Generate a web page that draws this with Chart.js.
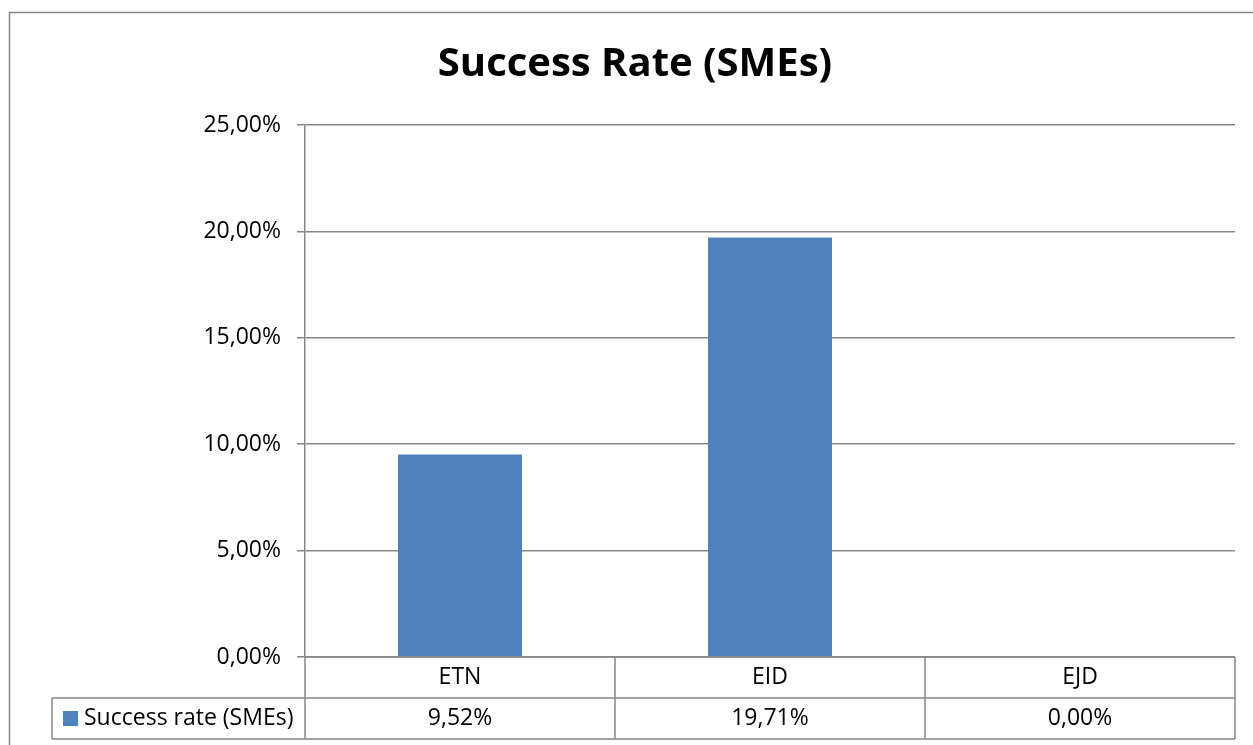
<!DOCTYPE html>
<html>
<head>
<meta charset="utf-8">
<script src="https://cdn.jsdelivr.net/npm/chart.js@4.4.0/dist/chart.umd.min.js"></script>
<style>
  html, body { margin: 0; padding: 0; background: #fff; }
  #wrap { width: 1253px; height: 745px; }
</style>
</head>
<body>
<div id="wrap"><canvas id="successChart" width="1253" height="745"></canvas></div>
<script>
const categories = ["ETN", "EID", "EJD"];
const seriesName = "Success rate (SMEs)";
const successRates = [0.0952, 0.1971, 0.0];
const yTicks = [0, 0.05, 0.1, 0.15, 0.2, 0.25];

const FONT = "'Open Sans', sans-serif";
const LINE = "#878787";
const BAR = "#4F81BD";

const fmtPct = (v) => (v * 100).toFixed(2).replace(".", ",") + "%";

// outer frame like the excel chart border
const framePlugin = {
  id: "frame",
  beforeDraw(chart) {
    const ctx = chart.ctx;
    ctx.save();
    ctx.fillStyle = "#fff";
    ctx.fillRect(0, 0, chart.width, chart.height);
    ctx.strokeStyle = LINE;
    ctx.lineWidth = 1.5;
    ctx.strokeRect(9.5, 12.5, chart.width + 20, chart.height + 20);
    ctx.restore();
  },
};

// data table under the plot
const tablePlugin = {
  id: "dataTable",
  afterDraw(chart) {
    const ctx = chart.ctx;
    const x = chart.scales.x;
    const top = chart.chartArea.bottom;
    const rowH = 41;
    const legendLeft = 52;
    const edges = [x.left];
    for (let i = 0; i < categories.length - 1; i++) {
      edges.push((x.getPixelForValue(i) + x.getPixelForValue(i + 1)) / 2);
    }
    edges.push(x.right);

    ctx.save();
    ctx.strokeStyle = LINE;
    ctx.lineWidth = 1.5;
    ctx.beginPath();
    // horizontal lines
    ctx.moveTo(x.left, top);
    ctx.lineTo(x.right, top);
    ctx.moveTo(legendLeft, top + rowH);
    ctx.lineTo(x.right, top + rowH);
    ctx.moveTo(legendLeft, top + 2 * rowH);
    ctx.lineTo(x.right, top + 2 * rowH);
    // vertical lines
    edges.forEach((e) => {
      ctx.moveTo(e, top);
      ctx.lineTo(e, top + 2 * rowH);
    });
    ctx.moveTo(legendLeft, top + rowH);
    ctx.lineTo(legendLeft, top + 2 * rowH);
    ctx.stroke();

    ctx.fillStyle = "#000";
    ctx.font = "23px " + FONT;
    ctx.textAlign = "center";
    ctx.textBaseline = "middle";
    categories.forEach((c, i) => {
      const cx = x.getPixelForValue(i);
      ctx.fillText(c, cx, top + rowH / 2);
      ctx.fillText(fmtPct(successRates[i]), cx, top + rowH * 1.5);
    });

    // legend key + series name
    ctx.fillStyle = BAR;
    ctx.fillRect(63, top + rowH + 13, 15, 15);
    ctx.fillStyle = "#000";
    ctx.textAlign = "left";
    ctx.fillText(seriesName, 84, top + rowH * 1.5);
    ctx.restore();
  },
};

new Chart(document.getElementById("successChart"), {
  type: "bar",
  data: {
    labels: categories,
    datasets: [
      {
        label: seriesName,
        data: successRates,
        backgroundColor: BAR,
        borderWidth: 0,
        categoryPercentage: 1,
        barPercentage: 0.4,
      },
    ],
  },
  options: {
    responsive: false,
    animation: false,
    layout: { padding: { left: 35, right: 18, top: 20, bottom: 88 } },
    plugins: {
      legend: { display: false },
      tooltip: { enabled: false },
      title: {
        display: true,
        text: "Success Rate (SMEs)",
        color: "#000",
        font: { family: FONT, size: 40, weight: "bold" },
        padding: { top: 21, bottom: 36 },
      },
    },
    scales: {
      x: { display: false },
      y: {
        min: 0,
        max: 0.25,
        afterFit(scale) {
          scale.width = 270;
        },
        afterBuildTicks(scale) {
          scale.ticks = yTicks.map((v) => ({ value: v }));
        },
        ticks: {
          color: "#000",
          font: { family: FONT, size: 23 },
          padding: 16,
          callback: (v) => fmtPct(v),
        },
        grid: { color: LINE, lineWidth: 1.5, tickLength: 8 },
        border: { color: LINE, width: 1.5 },
      },
    },
  },
  plugins: [framePlugin, tablePlugin],
});
</script>
</body>
</html>
